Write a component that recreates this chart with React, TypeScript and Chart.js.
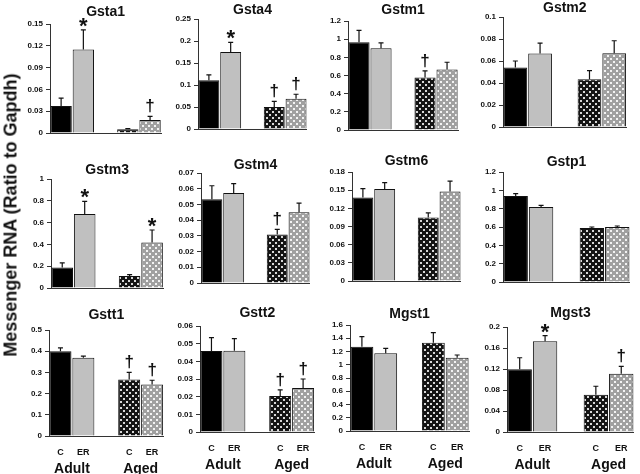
import React, { useEffect, useRef } from "react";
import { Chart, registerables } from "chart.js";

Chart.register(...registerables);

// ---------- data ----------
const categories = ["C", "ER", "", "C", "ER"];
const groupLabels = ["Adult", "Aged"];
const yAxisTitle = "Messenger RNA (Ratio to Gapdh)";

// order: [Adult C, Adult ER, (gap), Aged C, Aged ER]
const gsta1Values = [0.037, 0.115, null, 0.005, 0.018];
const gsta1Errors = [0.011, 0.027, null, 0.001, 0.005];
const gsta1Marks = ["", "*", "", "", "†"];

const gsta4Values = [0.111, 0.175, null, 0.05, 0.069];
const gsta4Errors = [0.012, 0.022, null, 0.013, 0.01];
const gsta4Marks = ["", "*", "", "†", "†"];

const gstm1Values = [0.966, 0.9, null, 0.578, 0.666];
const gstm1Errors = [0.13, 0.06, null, 0.073, 0.08];
const gstm1Marks = ["", "", "", "†", ""];

const gstm2Values = [0.054, 0.0668, null, 0.0433, 0.067];
const gstm2Errors = [0.006, 0.0094, null, 0.008, 0.0114];
const gstm2Marks = ["", "", "", "", ""];

const gstm3Values = [0.188, 0.68, null, 0.111, 0.418];
const gstm3Errors = [0.043, 0.114, null, 0.012, 0.114];
const gstm3Marks = ["", "*", "", "", "*"];

const gstm4Values = [0.0533, 0.0572, null, 0.0309, 0.045];
const gstm4Errors = [0.0086, 0.006, null, 0.0032, 0.0058];
const gstm4Marks = ["", "", "", "†", ""];

const gstm6Values = [0.138, 0.152, null, 0.1048, 0.148];
const gstm6Errors = [0.0146, 0.0105, null, 0.0077, 0.017];
const gstm6Marks = ["", "", "", "", ""];

const gstp1Values = [0.938, 0.818, null, 0.589, 0.6];
const gstp1Errors = [0.026, 0.018, null, 0.011, 0.011];
const gstp1Marks = ["", "", "", "", ""];

const gstt1Values = [0.4, 0.369, null, 0.267, 0.243];
const gstt1Errors = [0.016, 0.008, null, 0.033, 0.02];
const gstt1Marks = ["", "", "", "†", "†"];

const gstt2Values = [0.0458, 0.046, null, 0.0204, 0.0249];
const gstt2Errors = [0.0076, 0.0069, null, 0.0034, 0.0051];
const gstt2Marks = ["", "", "", "†", "†"];

const mgst1Values = [1.273, 1.172, null, 1.333, 1.107];
const mgst1Errors = [0.151, 0.076, null, 0.151, 0.04];
const mgst1Marks = ["", "", "", "", ""];

const mgst3Values = [0.1194, 0.1727, null, 0.0711, 0.111];
const mgst3Errors = [0.022, 0.011, null, 0.016, 0.014];
const mgst3Marks = ["", "*", "", "", "†"];

// y axis ranges: [max, step]
const gsta1Axis = [0.15, 0.03];
const gsta4Axis = [0.25, 0.05];
const gstm1Axis = [1.2, 0.2];
const gstm2Axis = [0.1, 0.02];
const gstm3Axis = [1, 0.2];
const gstm4Axis = [0.07, 0.01];
const gstm6Axis = [0.18, 0.03];
const gstp1Axis = [1.2, 0.2];
const gstt1Axis = [0.5, 0.1];
const gstt2Axis = [0.06, 0.01];
const mgst1Axis = [1.6, 0.2];
const mgst3Axis = [0.2, 0.04];

// ---------- layout (positions / styling) ----------
const FONT = 'Arial, "Liberation Sans", sans-serif';
const YW = 40; // y axis box width
const PR = 2; // right padding

type Box = { L: number; R: number; T: number; B: number; ty: number; labels: boolean };

const panels: {
  title: string;
  values: (number | null)[];
  errors: (number | null)[];
  marks: string[];
  axis: number[];
  box: Box;
}[] = [
  { title: "Gsta1", values: gsta1Values, errors: gsta1Errors, marks: gsta1Marks, axis: gsta1Axis, box: { L: 50, R: 166, T: 24, B: 133, ty: 12, labels: false } },
  { title: "Gsta4", values: gsta4Values, errors: gsta4Errors, marks: gsta4Marks, axis: gsta4Axis, box: { L: 198, R: 312, T: 19, B: 129, ty: 10, labels: false } },
  { title: "Gstm1", values: gstm1Values, errors: gstm1Errors, marks: gstm1Marks, axis: gstm1Axis, box: { L: 348, R: 463, T: 21, B: 130, ty: 10, labels: false } },
  { title: "Gstm2", values: gstm2Values, errors: gstm2Errors, marks: gstm2Marks, axis: gstm2Axis, box: { L: 503, R: 630, T: 17, B: 127, ty: 8, labels: false } },
  { title: "Gstm3", values: gstm3Values, errors: gstm3Errors, marks: gstm3Marks, axis: gstm3Axis, box: { L: 51, R: 168, T: 179, B: 288, ty: 170, labels: false } },
  { title: "Gstm4", values: gstm4Values, errors: gstm4Errors, marks: gstm4Marks, axis: gstm4Axis, box: { L: 201, R: 315, T: 173, B: 283, ty: 165, labels: false } },
  { title: "Gstm6", values: gstm6Values, errors: gstm6Errors, marks: gstm6Marks, axis: gstm6Axis, box: { L: 352, R: 466, T: 172, B: 281, ty: 161, labels: false } },
  { title: "Gstp1", values: gstp1Values, errors: gstp1Errors, marks: gstp1Marks, axis: gstp1Axis, box: { L: 503, R: 633, T: 172, B: 282, ty: 162, labels: false } },
  { title: "Gstt1", values: gstt1Values, errors: gstt1Errors, marks: gstt1Marks, axis: gstt1Axis, box: { L: 49, R: 168, T: 330, B: 436, ty: 315, labels: true } },
  { title: "Gstt2", values: gstt2Values, errors: gstt2Errors, marks: gstt2Marks, axis: gstt2Axis, box: { L: 200, R: 319, T: 326, B: 432, ty: 313, labels: true } },
  { title: "Mgst1", values: mgst1Values, errors: mgst1Errors, marks: mgst1Marks, axis: mgst1Axis, box: { L: 350, R: 473, T: 325, B: 431, ty: 314, labels: true } },
  { title: "Mgst3", values: mgst3Values, errors: mgst3Errors, marks: mgst3Marks, axis: mgst3Axis, box: { L: 507, R: 637, T: 327, B: 432, ty: 313, labels: true } },
];

const TITLE_SIZE = 14;
const BOTTOM_PLAIN = 8;
const BOTTOM_X = 22;
const BOTTOM_X2 = 26;

const errorBarPlugin = {
  id: "errorBars",
  afterDatasetsDraw(chart: any, _args: any, opts: any) {
    const ctx = chart.ctx;
    const y = chart.scales.y;
    const meta = chart.getDatasetMeta(0);
    const vals = chart.data.datasets[0].data;
    ctx.save();
    meta.data.forEach((el: any, i: number) => {
      const v = vals[i];
      const e = opts.errors[i];
      if (v == null || e == null) return;
      const x = el.x;
      const y0 = y.getPixelForValue(v);
      const y1 = y.getPixelForValue(v + e);
      ctx.strokeStyle = "#111";
      ctx.lineWidth = 1.2;
      ctx.beginPath();
      ctx.moveTo(x, y0);
      ctx.lineTo(x, y1);
      ctx.moveTo(x - 2.5, y1);
      ctx.lineTo(x + 2.5, y1);
      ctx.stroke();
      const m = opts.marks[i];
      if (m) {
        ctx.font = m === "*" ? `bold 22px ${FONT}` : `bold 17px ${FONT}`;
        ctx.fillStyle = "#111";
        ctx.textAlign = "center";
        ctx.textBaseline = "alphabetic";
        const tm = ctx.measureText(m);
        ctx.fillText(m, x, y1 - 3 - tm.actualBoundingBoxDescent);
      }
    });
    ctx.restore();
  },
};

function makePattern(ctx: CanvasRenderingContext2D, bg: string, dot: string) {
  const c = document.createElement("canvas");
  c.width = 6;
  c.height = 6;
  const g = c.getContext("2d")!;
  g.fillStyle = bg;
  g.fillRect(0, 0, 6, 6);
  g.fillStyle = dot;
  g.fillRect(0, 0, 2, 2);
  g.fillRect(3, 3, 2, 2);
  return ctx.createPattern(c, "repeat");
}

function Panel({ p }: { p: (typeof panels)[number] }) {
  const ref = useRef<HTMLCanvasElement>(null);
  const { box } = p;
  const bottomH = box.labels ? BOTTOM_X + BOTTOM_X2 : BOTTOM_PLAIN;
  const top = box.ty - 7;
  const left = box.L - YW;
  const width = YW + (box.R - box.L) + PR;
  const height = box.B - top + bottomH;
  const pb = box.T - top - TITLE_SIZE;

  useEffect(() => {
    const canvas = ref.current!;
    const ctx = canvas.getContext("2d")!;
    const agedC = makePattern(ctx, "#141414", "#d8d8d8");
    const agedER = makePattern(ctx, "#a0a0a0", "#f2f2f2");
    const tickFont = { family: FONT, size: 8, weight: "bold" as const };
    const scales: any = {
      x: {
        type: "category",
        offset: true,
        grid: { display: false, drawTicks: false },
        border: { display: true, color: "#333", width: 1 },
        ticks: {
          display: true,
          font: { family: FONT, size: 9, weight: "bold" },
          color: box.labels ? "#111" : "rgba(0,0,0,0)",
          padding: 11,
          maxRotation: 0,
          minRotation: 0,
          autoSkip: false,
        },
        afterFit: (s: any) => {
          s.height = box.labels ? BOTTOM_X : BOTTOM_PLAIN;
        },
      },
      y: {
        min: 0,
        max: p.axis[0],
        ticks: {
          stepSize: p.axis[1],
          callback: (v: any) => String(+(+v).toFixed(4)),
          font: tickFont,
          color: "#111",
          padding: 3,
        },
        grid: { display: true, drawOnChartArea: false, drawTicks: true, tickLength: 4, color: "#333" },
        border: { display: true, color: "#333", width: 1 },
        afterFit: (s: any) => {
          s.width = YW;
        },
      },
    };
    if (box.labels) {
      scales.x2 = {
        type: "linear",
        position: "bottom",
        offset: false,
        min: -0.5,
        max: 4.5,
        grid: { display: false, drawTicks: false },
        border: { display: false },
        afterBuildTicks: (s: any) => {
          s.ticks = [{ value: 0.5 }, { value: 3.5 }];
        },
        ticks: {
          callback: (_v: any, i: number) => groupLabels[i],
          font: { family: FONT, size: 14, weight: "bold" },
          color: "#111",
          padding: 3,
          maxRotation: 0,
          minRotation: 0,
          autoSkip: false,
        },
        afterFit: (s: any) => {
          s.height = BOTTOM_X2;
        },
      };
    }
    const chart = new Chart(canvas, {
      type: "bar",
      data: {
        labels: categories,
        datasets: [
          {
            xAxisID: "x",
            data: p.values as any,
            backgroundColor: ["#000000", "#c0c0c0", "transparent", agedC as any, agedER as any],
            borderColor: "#111",
            borderWidth: 1,
            barPercentage: 0.96,
            categoryPercentage: 1,
          },
        ],
      },
      options: {
        animation: false,
        responsive: false,
        events: [],
        layout: { padding: { left: 0, right: PR, top: 0, bottom: 0 } },
        plugins: {
          legend: { display: false },
          tooltip: { enabled: false },
          title: {
            display: true,
            text: p.title,
            fullSize: false,
            color: "#111",
            font: { family: FONT, size: TITLE_SIZE, weight: "bold", lineHeight: 1 },
            padding: { top: 0, bottom: pb },
          },
          errorBars: { errors: p.errors, marks: p.marks },
        } as any,
        scales,
      },
      plugins: [errorBarPlugin as any],
    });
    return () => chart.destroy();
  }, []);

  return (
    <canvas
      ref={ref}
      width={width}
      height={height}
      style={{ position: "absolute", left, top, width, height }}
    />
  );
}

export default function App() {
  return (
    <div
      style={{
        position: "fixed",
        left: 0,
        top: 0,
        width: 640,
        height: 474,
        background: "#fff",
        overflow: "hidden",
      }}
    >
      {panels.map((p) => (
        <Panel key={p.title} p={p} />
      ))}
      <div
        style={{
          position: "absolute",
          left: 11,
          top: 215,
          transform: "translate(-50%, -50%) rotate(-90deg)",
          whiteSpace: "nowrap",
          fontFamily: 'Arial, "Liberation Sans", sans-serif',
          fontWeight: "bold",
          fontSize: 18,
          color: "#111",
        }}
      >
        {yAxisTitle}
      </div>
    </div>
  );
}
